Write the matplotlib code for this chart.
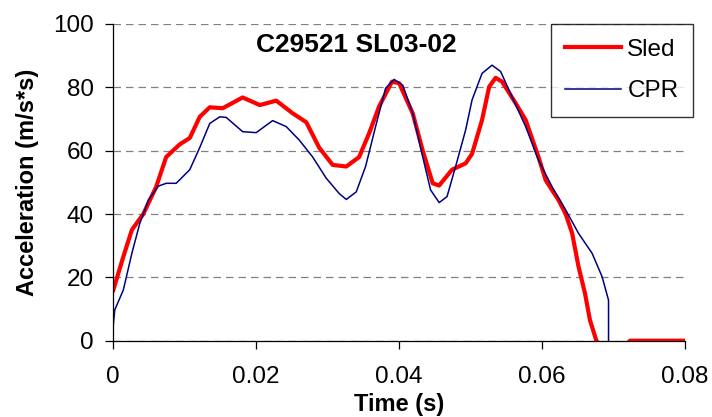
import numpy as np
import matplotlib.pyplot as plt

# Sled acceleration trace
sled_t = [0.0, 0.0014, 0.0026, 0.0042, 0.0060, 0.0074, 0.0093, 0.0107, 0.0121, 0.0135,
          0.0153, 0.0181, 0.0205, 0.0228, 0.0251, 0.0270, 0.0288, 0.0307, 0.0326, 0.0344,
          0.0358, 0.0372, 0.0390, 0.0400, 0.0419, 0.0433, 0.0447, 0.0456, 0.0474, 0.0493,
          0.0502, 0.0516, 0.0526, 0.0535, 0.0544, 0.0563, 0.0577, 0.0595, 0.0605, 0.0623,
          0.0633, 0.0642, 0.0651, 0.0660, 0.0667, 0.0676, 0.0690, 0.0710, 0.0723, 0.0800]
sled_a = [16.0, 26.5, 35.0, 40.0, 48.6, 58.0, 62.0, 64.0, 70.7, 73.7,
          73.4, 76.8, 74.4, 75.8, 71.8, 69.0, 61.0, 55.5, 55.0, 58.0,
          65.5, 74.0, 81.8, 81.3, 71.8, 60.0, 49.7, 49.0, 54.0, 56.0,
          59.0, 69.7, 80.2, 83.0, 81.8, 75.0, 69.7, 58.0, 50.7, 44.4,
          40.0, 34.0, 23.4, 15.0, 6.5, 0.0, -4.0, -3.0, 0.0, 0.0]

# CPR acceleration trace
cpr_t = [0.0, 0.0002, 0.0014, 0.0026, 0.0037, 0.0049, 0.0063, 0.0074, 0.0088, 0.0107,
         0.0121, 0.0135, 0.0149, 0.0158, 0.0181, 0.0200, 0.0223, 0.0242, 0.0260, 0.0279,
         0.0298, 0.0316, 0.0326, 0.0340, 0.0353, 0.0367, 0.0381, 0.0393, 0.0405, 0.0419,
         0.0433, 0.0444, 0.0456, 0.0467, 0.0479, 0.0493, 0.0502, 0.0516, 0.0530, 0.0542,
         0.0558, 0.0577, 0.0595, 0.0614, 0.0633, 0.0651, 0.0670, 0.0684, 0.0693, 0.0693]
cpr_a = [5.0, 9.7, 16.0, 27.6, 37.0, 44.4, 48.8, 49.7, 49.7, 54.0,
         61.0, 68.6, 70.7, 70.5, 66.0, 65.7, 69.5, 67.6, 63.4, 58.0,
         51.3, 46.5, 44.6, 47.0, 55.0, 67.6, 79.7, 82.5, 80.7, 71.8,
         58.0, 47.6, 43.6, 45.5, 55.0, 66.5, 76.0, 84.4, 87.0, 85.0,
         77.0, 67.6, 57.0, 48.6, 41.3, 33.9, 27.6, 20.2, 12.8, -5.0]

x_ticks = [0, 0.02, 0.04, 0.06, 0.08]
x_labels = ['0', '0.02', '0.04', '0.06', '0.08']
y_ticks = [0, 20, 40, 60, 80, 100]

plt.rcParams['font.family'] = ['Liberation Sans', 'DejaVu Sans']

fig = plt.figure(figsize=(7.12, 4.17), dpi=100)
ax = fig.add_axes([113.3 / 712, 1 - 340.7 / 417, (685 - 113.3) / 712, (340.7 - 24) / 417])

ax.plot(sled_t, sled_a, color='#FF0000', lw=3.0, label='Sled', solid_joinstyle='round')
ax.plot(cpr_t, cpr_a, color='#000080', lw=1.1, label='CPR')

ax.set_xlim(0, 0.08)
ax.set_ylim(0, 100)
ax.set_xticks(x_ticks)
ax.set_xticklabels(x_labels)
ax.set_yticks(y_ticks)
ax.yaxis.grid(True, color='#808080', linestyle=(0, (6, 4)), linewidth=0.9)
ax.set_axisbelow(True)

for side in ['top', 'right']:
    ax.spines[side].set_visible(False)
for side in ['left', 'bottom']:
    ax.spines[side].set_color('black')
    ax.spines[side].set_linewidth(0.9)

ax.tick_params(axis='both', direction='out', length=6, width=0.9, labelsize=17.5)
ax.tick_params(axis='x', pad=12)
ax.tick_params(axis='y', pad=8)

ax.set_xlabel('Time (s)', fontsize=17, fontweight='bold', labelpad=4)
ax.set_ylabel('Acceleration (m/s*s)', fontsize=17, fontweight='bold', labelpad=10)

ax.text(0.425, 0.935, 'C29521 SL03-02', transform=ax.transAxes, ha='center', va='center',
        fontsize=19, fontweight='bold')

leg = fig.legend(loc='upper right', bbox_to_anchor=(693 / 712, 1 - 24 / 417), fontsize=17.5,
                 frameon=True, fancybox=False, handlelength=2.3, handletextpad=0.25,
                 borderpad=0.6, labelspacing=0.8, borderaxespad=0)
leg.get_frame().set_edgecolor('black')
leg.get_frame().set_linewidth(1.0)

fig.savefig('out.png', dpi=100)
